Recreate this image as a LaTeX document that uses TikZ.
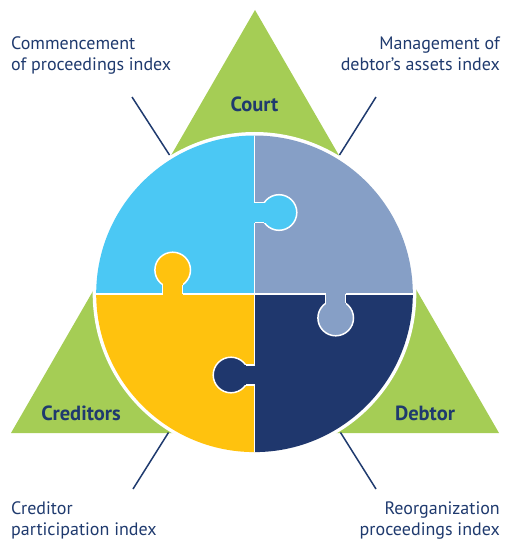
\documentclass[tikz,border=0pt]{standalone}
\usepackage{fontspec}
\setmainfont{PT Sans}
\definecolor{lblue}{HTML}{4BC8F4}
\definecolor{gblue}{HTML}{869FC6}
\definecolor{yel}{HTML}{FFC20E}
\definecolor{navy}{HTML}{1F376D}
\definecolor{grn}{HTML}{A5CD55}
\definecolor{txt}{HTML}{1F3A6E}
\tikzset{
  tri/.style={fill=grn},
  seam/.style={draw=white, line width=1.5pt},
  lead/.style={draw=txt, line width=1.5pt},
  lbl/.style={inner sep=0pt, text=txt, font=\fontsize{18}{21}\selectfont},
  role/.style={inner sep=0pt, text=txt, font=\fontsize{20.5}{22}\selectfont\bfseries},
}
\newcommand{\tabH}[4]{% center x, center y, direction (+1/-1), color : tab across vertical seam
  \fill[#4] (#1,#2) circle[radius=17.8];
  \draw[seam] (#1,#2) circle[radius=17.8];
  \fill[#4] (#1-#3*25.5,#2-10) rectangle (#1,#2+10);
  \draw[seam] (#1-#3*24,#2-10) -- (#1-#3*14.8,#2-10);
  \draw[seam] (#1-#3*24,#2+10) -- (#1-#3*14.8,#2+10);
}
\newcommand{\tabV}[4]{% tab across horizontal seam
  \fill[#4] (#1,#2) circle[radius=17.8];
  \draw[seam] (#1,#2) circle[radius=17.8];
  \fill[#4] (#1-10,#2-#3*25.5) rectangle (#1+10,#2);
  \draw[seam] (#1-10,#2-#3*24) -- (#1-10,#2-#3*14.8);
  \draw[seam] (#1+10,#2-#3*24) -- (#1+10,#2-#3*14.8);
}
\begin{document}
\begin{tikzpicture}[x=1pt,y=-1pt]
\useasboundingbox (0,0) rectangle (505,540);
% triangles
\fill[tri] (255,10) -- (365,200.5) -- (145,200.5) -- cycle;
\fill[tri] (11,433) -- (211,433) -- (111,259.8) -- cycle;
\fill[tri] (499,433) -- (299,433) -- (399,259.8) -- cycle;
% puzzle disc
\fill[white] (254.5,293.8) circle[radius=161.8];
\begin{scope}
  \clip (254.5,293.8) circle[radius=158.3];
  \fill[lblue] (90,130) rectangle (254.5,294);
  \fill[gblue] (254.5,130) rectangle (420,294);
  \fill[yel] (90,294) rectangle (254.5,460);
  \fill[navy] (254.5,294) rectangle (420,460);
  \draw[seam] (254.5,130) -- (254.5,460);
  \draw[seam] (90,294) -- (420,294);
  \tabH{279}{212.5}{1}{lblue}
  \tabV{172.7}{270}{-1}{yel}
  \tabV{335.7}{318}{1}{gblue}
  \tabH{231}{375}{-1}{navy}
\end{scope}
% role labels
\node[role] (court) at (254.5,104) {Court};
\node[role] (cred) at (81,413) {Creditors};
\node[role] (debt) at (425,413) {Debtor};
% index labels (base anchor = last line)
\node[lbl, anchor=base west, align=left] (ci) at (11,71) {Commencement\\of proceedings index};
\node[lbl, anchor=base east, align=right] (mi) at (500,71) {Management of\\debtor’s assets index};
\node[lbl, anchor=base west, align=left] (pi) at (11,535.5) {Creditor\\participation index};
\node[lbl, anchor=base east, align=right] (ri) at (500,535.5) {Reorganization\\proceedings index};
% leader lines
\coordinate (a1) at (132,97);  \coordinate (a2) at (169.5,155);
\coordinate (b1) at (376,97);  \coordinate (b2) at (339.5,155);
\coordinate (c1) at (168.5,432.5); \coordinate (c2) at (133,489);
\coordinate (d1) at (340.5,432.5); \coordinate (d2) at (376,489);
\draw[lead] (a1) -- (a2);
\draw[lead] (b1) -- (b2);
\draw[lead] (c1) -- (c2);
\draw[lead] (d1) -- (d2);
\end{tikzpicture}
\end{document}
